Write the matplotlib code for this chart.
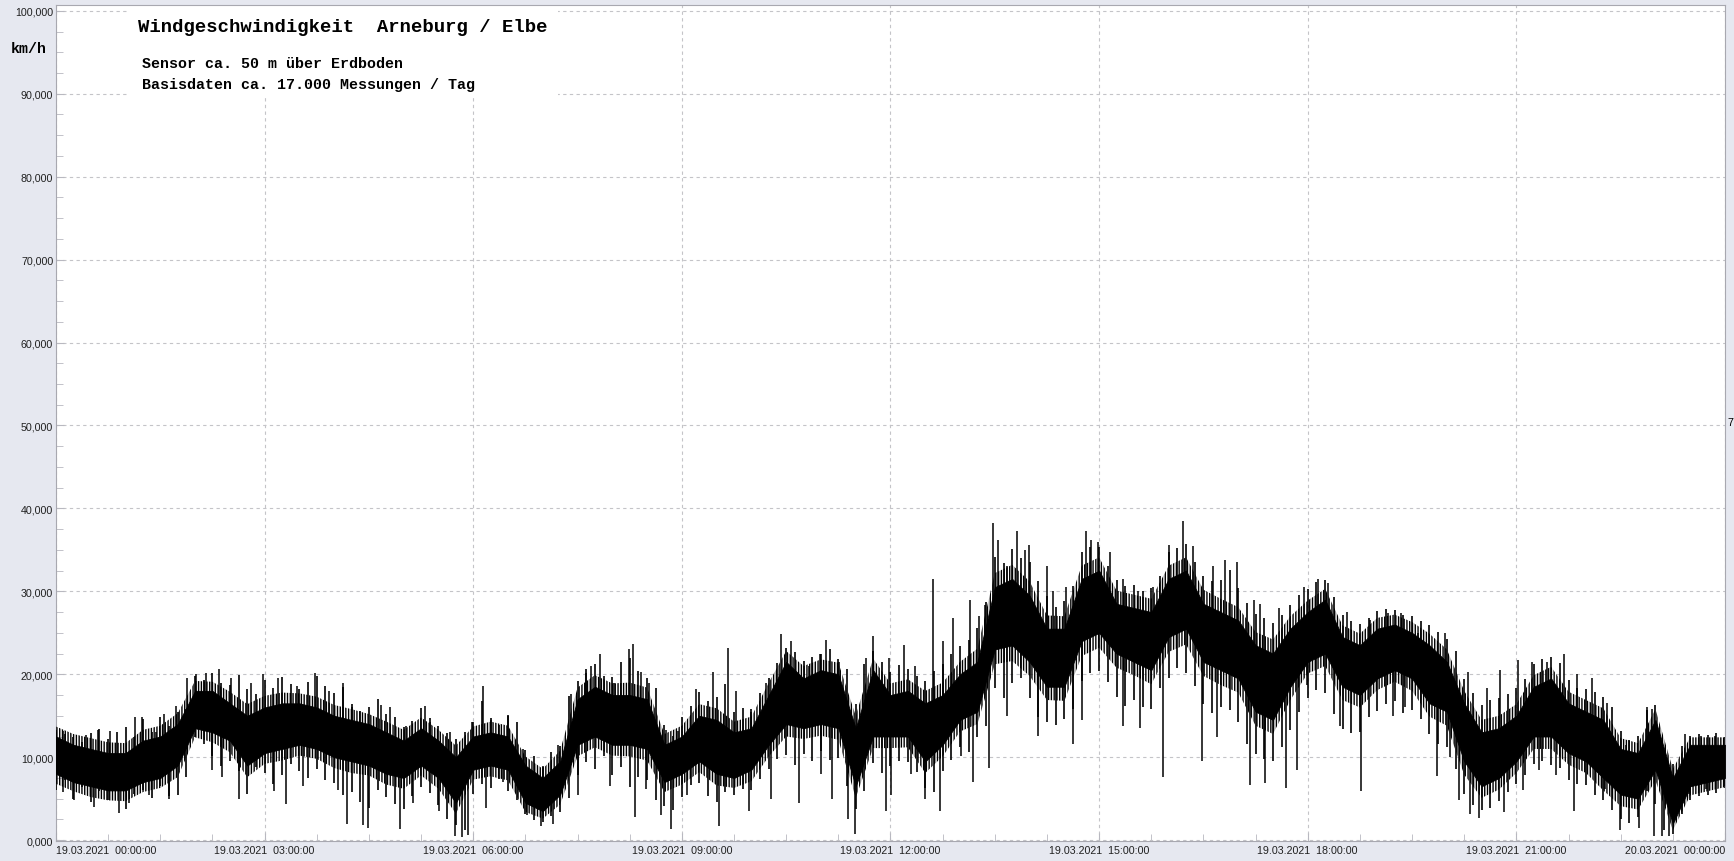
import numpy as np
import matplotlib.pyplot as plt
from matplotlib.ticker import MultipleLocator, FuncFormatter
from matplotlib.patches import Rectangle

plt.rcParams['hatch.linewidth'] = 1.0

# Zeitachse in Stunden ab 19.03.2021 00:00 (15-Minuten-Raster)
hours = np.arange(0, 24.01, 0.25)

# dichter, fast schwarzer Kern des Signals (km/h)
core_lo = [8, 7, 6.5, 6, 6, 7, 7.5, 9, 13.5, 13, 12, 9,
           10.5, 11, 11.5, 11, 10, 9.5, 9, 8, 7.5, 9, 7.5, 4.5,
           8.5, 9, 8.5, 4.5, 3.5, 5.5, 11.5, 12.5, 11.5, 11.5, 11, 7,
           8, 9.5, 8, 7.5, 8.5, 11.5, 14, 13.5, 14, 13.5, 6.5, 12.5,
           12.5, 12.5, 9.5, 11.5, 14.5, 15.5, 23, 23.5, 21.5, 18.5, 18.5, 24,
           25, 22.5, 21.5, 20.5, 24.5, 25.5, 21.5, 20.5, 19.5, 15.5, 14.5, 18.5,
           21.5, 22.5, 18.5, 17.5, 19.5, 20.5, 19.5, 16.5, 15.5, 9.5, 6.5, 7.5,
           9.5, 12.5, 12.5, 10.5, 9.5, 7.5, 5.5, 5, 8.5, 2, 6.5, 7, 7.5]
core_hi = [12.5, 11.5, 11, 10.5, 10.5, 12, 12.5, 14, 18, 18, 16.5, 15,
           16, 16.5, 16.5, 16, 15, 14.5, 14, 13, 12, 13.5, 12, 10,
           12.5, 13, 12.5, 9, 7.5, 9.5, 17, 18.5, 17.5, 17.5, 17, 11.5,
           12.5, 15, 14.5, 13, 13.5, 17.5, 21.5, 19.5, 20.5, 20, 13.5, 20.5,
           17.5, 18, 16.5, 17.5, 20, 21.5, 30.5, 31.5, 29.5, 25.5, 25.5, 31.5,
           32.5, 28.5, 28, 27.5, 31.5, 32.5, 28.5, 27.5, 26.5, 23.5, 22.5, 25.5,
           27.5, 29, 24.5, 23.5, 25.5, 26, 25, 23.5, 21.5, 16.5, 13, 13.5,
           15, 18.5, 19.5, 16.5, 15.5, 14.5, 11, 10.5, 14.5, 7.5, 11.5, 11.5, 11.5]

# Rand des dichten Rauschbandes um den Kern
fuzz_lo = [6.8, 5.9, 5.2, 4.8, 4.7, 5.8, 6.3, 7.6, 12.4, 11.8, 10.6, 7.6,
           9.2, 9.6, 10.2, 9.8, 8.7, 8.1, 7.8, 6.7, 6.2, 7.8, 6.2, 3.2,
           7.3, 7.7, 7.2, 3.4, 2.6, 4.3, 10.1, 11.2, 10.2, 10.1, 9.6, 5.8,
           6.7, 8.2, 6.6, 6.3, 7.1, 10.1, 12.5, 12.2, 12.6, 12.1, 5.1, 11.1,
           11.1, 11.2, 8.1, 10.1, 13.1, 14.0, 21.2, 21.6, 19.8, 16.9, 16.8, 22.2,
           23.2, 20.8, 19.9, 18.8, 22.7, 23.6, 19.8, 18.7, 17.8, 13.8, 12.8, 16.9,
           20.1, 21.0, 16.9, 16.0, 18.1, 19.1, 18.0, 14.9, 13.8, 7.9, 5.1, 6.1,
           8.1, 11.0, 11.0, 9.1, 8.1, 6.0, 4.1, 3.7, 7.2, 1.2, 5.4, 5.9, 6.4]
fuzz_hi = [13.7, 12.8, 12.3, 11.8, 11.7, 13.3, 13.8, 15.3, 19.2, 19.1, 17.9, 16.4,
           17.4, 17.8, 17.7, 17.3, 16.3, 15.8, 15.2, 14.3, 13.3, 14.8, 13.3, 11.4,
           13.7, 14.3, 13.8, 10.1, 8.6, 10.8, 18.4, 19.9, 18.9, 19.0, 18.4, 12.8,
           13.8, 16.4, 15.9, 14.3, 14.9, 19.0, 22.8, 21.0, 21.8, 21.4, 15.0, 21.9,
           18.9, 19.4, 18.0, 19.0, 21.5, 23.1, 32.2, 33.2, 31.2, 27.1, 27.0, 33.1,
           34.1, 30.1, 29.6, 29.1, 33.1, 34.1, 30.2, 29.1, 28.1, 25.1, 24.2, 27.0,
           28.9, 30.3, 25.9, 24.9, 26.8, 27.2, 26.3, 24.9, 23.0, 18.0, 14.5, 15.0,
           16.4, 19.9, 20.9, 17.9, 16.9, 15.9, 12.3, 11.7, 15.8, 8.6, 12.4, 12.4, 12.4]

edge_t = np.arange(0, 24.01, 0.125)
edge_hi = [13.3, 12.8, 12.5, 11.8, 12.9, 13.4, 12.2, 13.0,
           13.6, 12.4, 14.6, 13.1, 14.9, 13.8, 15.5, 15.8,
           19.8, 19.3, 20.1, 19.0, 18.7, 19.9, 18.2, 17.6,
           19.3, 18.4, 19.7, 18.8, 18.2, 19.1, 19.8, 18.6,
           17.8, 18.5, 16.4, 15.6, 16.1, 17.0, 15.2, 14.8,
           13.6, 14.4, 15.9, 14.7, 13.8, 12.9, 12.2, 13.1,
           14.2, 16.8, 14.7, 13.9, 15.1, 14.3, 10.9, 10.1,
           8.8, 10.6, 11.3, 17.4, 19.2, 20.6, 21.3, 19.8,
           19.7, 21.5, 22.0, 20.4, 19.6, 18.3, 13.9, 12.6,
           14.8, 16.2, 17.9, 16.8, 17.3, 18.8, 15.4, 15.9,
           15.8, 17.7, 19.6, 21.4, 23.2, 22.7, 21.6, 22.1,
           22.4, 23.0, 21.8, 20.6, 16.4, 21.3, 22.8, 21.5,
           20.3, 21.1, 20.6, 19.8, 19.2, 20.4, 21.3, 22.4,
           23.4, 24.1, 25.6, 28.7, 34.2, 33.4, 35.1, 34.0,
           33.6, 31.2, 29.4, 28.1, 28.8, 30.6, 34.8, 35.4,
           35.3, 33.0, 31.4, 30.6, 30.8, 30.1, 30.4, 31.9,
           34.8, 35.2, 35.7, 33.6, 31.8, 31.2, 31.4, 32.6,
           30.4, 28.6, 27.3, 26.8, 26.2, 27.1, 28.4, 29.6,
           30.3, 31.1, 31.4, 29.3, 27.2, 26.4, 26.1, 26.8,
           27.6, 27.9, 27.8, 27.2, 27.0, 26.4, 25.9, 25.1,
           24.2, 22.8, 19.4, 17.8, 16.3, 16.9, 17.1, 17.6,
           18.3, 19.4, 21.2, 21.8, 22.1, 21.4, 19.3, 18.4,
           18.2, 17.9, 17.3, 16.1, 13.2, 12.1, 12.6, 15.7,
           16.3, 10.8, 9.2, 11.4, 12.6, 12.8, 12.7, 12.9,
           12.4]
edge_lo = [6.0, 7.2, 5.0, 6.4, 4.6, 5.9, 4.9, 6.2,
           3.8, 5.6, 6.0, 5.1, 6.5, 5.3, 5.4, 7.6,
           12.4, 11.6, 10.2, 8.9, 9.6, 8.4, 5.6, 8.8,
           8.1, 6.8, 7.9, 9.2, 8.4, 7.5, 8.6, 7.3,
           6.9, 5.4, 5.8, 4.6, 3.9, 6.1, 5.2, 4.4,
           3.8, 5.3, 6.4, 5.7, 4.2, 2.6, 1.8, 1.2,
           5.6, 6.8, 6.3, 7.4, 5.9, 4.8, 3.2, 2.4,
           2.2, 2.9, 3.4, 5.1, 7.8, 9.4, 8.6, 10.1,
           7.9, 8.8, 6.4, 7.6, 7.2, 4.8, 4.1, 3.6,
           5.2, 6.6, 6.9, 5.3, 4.6, 5.8, 5.4, 6.2,
           6.1, 7.4, 8.6, 9.8, 10.3, 9.1, 10.4, 9.6,
           10.8, 9.7, 9.9, 6.5, 3.8, 5.9, 9.3, 8.1,
           8.9, 9.6, 9.4, 8.2, 6.3, 5.8, 8.4, 9.7,
           11.2, 10.6, 12.4, 13.8, 18.4, 17.2, 18.9, 19.6,
           17.2, 14.8, 14.2, 13.9, 14.6, 15.8, 19.2, 20.1,
           20.4, 19.1, 17.3, 16.2, 16.9, 16.0, 15.8, 18.4,
           19.6, 20.8, 20.2, 18.6, 16.4, 15.3, 16.1, 15.7,
           14.2, 11.6, 10.4, 9.8, 9.6, 11.2, 13.3, 15.4,
           17.2, 18.1, 17.8, 15.2, 13.4, 12.9, 13.1, 14.8,
           15.6, 16.4, 16.8, 15.3, 15.7, 14.6, 12.8, 11.6,
           11.2, 8.6, 5.6, 4.2, 3.6, 3.9, 4.7, 5.8,
           6.8, 7.9, 9.2, 9.6, 9.1, 8.7, 7.3, 6.8,
           6.6, 5.4, 4.8, 3.6, 2.6, 2.1, 2.8, 5.9,
           4.4, 1.2, 0.8, 3.1, 4.8, 5.3, 5.5, 5.7,
           6.3]

# Spitzen nach oben (Zeit in h, Wert in km/h)
up_t = [0.0, 0.1, 0.43, 0.6, 0.78, 1.13, 1.24, 1.44, 1.56, 1.72, 1.89, 2.01,
        2.16, 2.34, 2.52, 2.81, 2.98, 3.19, 3.46, 3.73, 3.93, 4.12, 4.25, 4.67,
        4.8, 5.04, 5.3, 5.38, 5.67, 5.98, 6.14, 6.26, 6.5, 6.71, 7.01, 7.22,
        7.41, 7.62, 7.7, 7.82, 8.02, 8.24, 8.3, 8.41, 8.53, 8.77, 8.94, 9.21,
        9.45, 9.66, 9.78, 10.0, 10.21, 10.43, 10.57, 10.83, 10.98, 11.07, 11.26, 11.41,
        11.65, 11.75, 11.98, 12.2, 12.35, 12.61, 12.76, 12.9, 13.15, 13.27, 13.36, 13.48,
        13.54, 13.67, 13.82, 13.93, 13.99, 14.25, 14.34, 14.53, 14.81, 14.89, 14.99, 15.16,
        15.35, 15.56, 15.78, 16.0, 16.2, 16.35, 16.64, 16.81, 16.98, 17.22, 17.31, 17.58,
        17.94, 18.15, 18.29, 18.56, 18.9, 19.16, 19.34, 19.59, 19.98, 20.31, 20.58, 20.77,
        21.03, 21.23, 21.44, 21.68, 21.87, 22.09, 22.3, 22.57, 22.88, 22.95, 23.19, 23.43,
        23.65, 23.86]
up_v = [13, 13.2, 12.7, 13.3, 13.2, 14.9, 14.8, 13, 15.2, 16.2, 19.6, 20,
        20.2, 20.6, 19.5, 19, 20, 19.6, 18.6, 20.2, 18, 18.9, 16, 16.3,
        16, 13.8, 16.2, 14.3, 13, 14.2, 18.6, 14.5, 15, 11, 9, 11.5,
        17.6, 20.2, 21, 22.4, 19, 23.1, 23.7, 20.3, 19, 13.3, 13.2, 18.2,
        20.3, 23.2, 18, 15.5, 19, 24.8, 24, 21, 22.5, 24.1, 21.5, 12.5,
        22, 24.6, 22, 23.5, 21, 31.5, 24, 26.8, 29, 27, 28.3, 38.3,
        36.2, 33, 37.3, 35, 35.6, 33, 30, 30.5, 37.3, 36.2, 36, 34.7,
        31.5, 30, 30.5, 35.6, 38.5, 35.5, 33, 33.8, 33.5, 29, 28.5, 28,
        30.5, 31.5, 31, 27.5, 26.5, 27.4, 27.4, 25, 25, 20.3, 18.4, 20.5,
        21.7, 21.5, 21.5, 22.4, 20, 19.5, 16.5, 11.5, 16, 15.8, 8, 12.8,
        12.6, 12.6]

# Spitzen nach unten
dn_t = [0.1, 0.26, 0.54, 0.91, 1.05, 1.34, 1.62, 2.25, 2.38, 2.63, 3.13, 3.31,
        3.55, 4.06, 4.19, 4.42, 4.49, 4.95, 5.14, 5.51, 5.74, 5.84, 5.93, 6.18,
        6.43, 6.77, 6.97, 7.14, 7.5, 7.96, 8.32, 8.48, 8.7, 8.84, 9.07, 9.53,
        9.96, 10.28, 10.69, 11.0, 11.16, 11.39, 11.49, 11.93, 12.01, 12.3, 12.5, 12.71,
        13.02, 13.19, 13.42, 13.67, 14.12, 14.63, 14.76, 15.35, 15.59, 15.92, 16.48, 16.69,
        17.17, 17.38, 17.69, 17.84, 17.99, 18.47, 18.76, 19.22, 19.4, 19.86, 20.04, 20.18,
        20.34, 20.46, 20.82, 21.09, 21.32, 21.57, 21.83, 22.28, 22.49, 22.76, 22.98, 23.1,
        23.19, 23.48, 23.72, 23.98]
dn_v = [5.8, 4.8, 4, 3.3, 4.5, 5.5, 5, 8.5, 7.6, 5, 5.9, 4.4,
        6.5, 6, 2, 1.8, 1.5, 1.3, 4.5, 3.5, 0.5, 0.4, 0.6, 3.9,
        7, 3, 1.7, 2, 5.5, 6.5, 2.8, 6.2, 3, 1.3, 5.5, 1.7,
        3.5, 5, 4.5, 8, 5, 2.5, 0.7, 3.5, 5.5, 8, 5, 3.5,
        10.2, 7, 8.7, 15, 12.6, 11.6, 14.5, 13.8, 13.5, 7.6, 9.5, 12.5,
        6.7, 6.9, 6.3, 8.5, 18.7, 13.8, 5.9, 15, 16, 7.7, 10, 4.8,
        3.2, 2.7, 3.4, 6, 8.5, 7.8, 3.5, 6.2, 1.2, 1.5, 0.5, 0.5,
        0.5, 5.6, 6.2, 6.5]

major_ticks = [0, 3, 6, 9, 12, 15, 18, 21, 24]
tick_labels = ["19.03.2021  00:00:00", "19.03.2021  03:00:00", "19.03.2021  06:00:00",
               "19.03.2021  09:00:00", "19.03.2021  12:00:00", "19.03.2021  15:00:00",
               "19.03.2021  18:00:00", "19.03.2021  21:00:00", "20.03.2021  00:00:00"]

bg = "#E6E8F0"
fig = plt.figure(figsize=(17.34, 8.62), dpi=100, facecolor=bg)
ax = fig.add_axes([56 / 1734, 1 - 842 / 862, 1669 / 1734, 836 / 862])
ax.set_facecolor("white")

ax.set_xlim(0, 24)
ax.set_ylim(-0.1, 100.7)

# Rauschband (schraffiert), Kern (voll), Hüllkurve und Einzelspitzen
ax.fill_between(hours, fuzz_lo, fuzz_hi, facecolor="none", edgecolor="black",
                hatch="||||||", lw=0, zorder=3)
ax.fill_between(hours, core_lo, core_hi, color="black", lw=0.6, zorder=3)
ax.vlines(edge_t, edge_lo, edge_hi, color="black", lw=1.2, zorder=3)
mid = (np.array(core_lo) + np.array(core_hi)) / 2
base_up = np.interp(up_t, hours, mid)
base_dn = np.interp(dn_t, hours, mid)
ax.vlines(up_t, base_up, up_v, color="black", lw=1.1, zorder=3)
ax.vlines(dn_t, dn_v, base_dn, color="black", lw=1.1, zorder=3)

# Gitter
ax.grid(True, which="major", color="#C4C4C8", linestyle=(0, (3, 3)), linewidth=0.8)
ax.set_axisbelow(True)
for s in ax.spines.values():
    s.set_color("#A8A8B0")

ax.xaxis.set_minor_locator(MultipleLocator(0.75))
ax.yaxis.set_major_locator(MultipleLocator(10))
ax.yaxis.set_minor_locator(MultipleLocator(2.5))
ax.set_xticks(major_ticks)
ax.set_xticklabels(tick_labels)
ax.yaxis.set_major_formatter(FuncFormatter(lambda v, p: f"{v:.3f}".replace(".", ",")))
ax.tick_params(which="both", direction="in", color="#B8B8C0", labelsize=7.7,
               labelcolor="#202020")
ax.tick_params(which="major", length=6)
ax.tick_params(which="minor", length=5)
ax.tick_params(axis="x", pad=3)
ax.tick_params(axis="y", pad=2)
for lab in ax.get_xticklabels() + ax.get_yticklabels():
    lab.set_fontfamily("Liberation Sans")
xl = ax.get_xticklabels()
xl[0].set_horizontalalignment("left")
xl[-1].set_horizontalalignment("right")
xl[-1].set_x(23.83)

# weisse Fläche hinter dem Titelblock
ax.add_patch(Rectangle((0.043, 0.891), 0.258, 0.12, transform=ax.transAxes,
                       facecolor="white", edgecolor="none", zorder=2))

mono = "Liberation Mono"
fig.text(138 / 1734, 1 - 27 / 862, "Windgeschwindigkeit  Arneburg / Elbe",
         family=mono, weight="bold", fontsize=13.6, va="center")
fig.text(142 / 1734, 1 - 64 / 862, "Sensor ca. 50 m über Erdboden",
         family=mono, weight="bold", fontsize=10.8, va="center")
fig.text(142 / 1734, 1 - 85 / 862, "Basisdaten ca. 17.000 Messungen / Tag",
         family=mono, weight="bold", fontsize=10.8, va="center")
fig.text(11 / 1734, 1 - 49 / 862, "km/h", family=mono, weight="bold",
         fontsize=10.8, va="center")
fig.text(1727 / 1734, 1 - 423 / 862, "7", family="Liberation Sans",
         fontsize=7.7, va="center")

fig.savefig("out.png", dpi=100, facecolor=bg)
